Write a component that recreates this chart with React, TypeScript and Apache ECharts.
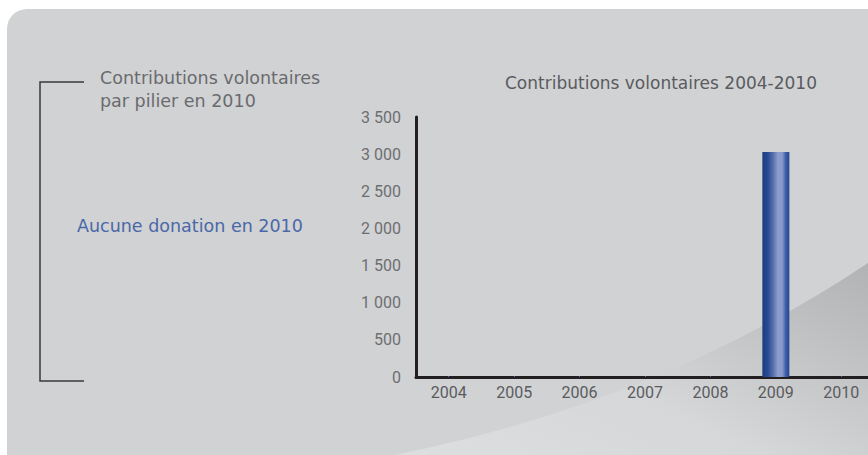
import React, { useEffect, useRef } from "react";
import * as echarts from "echarts";

const years = ["2004", "2005", "2006", "2007", "2008", "2009", "2010"];
const contributions = [0, 0, 0, 0, 0, 3030, 0];
const yTicks = { min: 0, max: 3500, interval: 500 };
const chartTitle = "Contributions volontaires 2004-2010";
const sideTitleLines = ["Contributions volontaires", "par pilier en 2010"];
const sideNote = "Aucune donation en 2010";

let registered = false;
function registerShapes() {
  if (registered) return;
  registered = true;
  echarts.graphic.registerShape(
    "swoosh",
    echarts.graphic.extendPath("M395,455 Q662,401 868,263 L900,240 L900,470 L395,470 Z", {})
  );
}

const fmt = (v: number) => {
  const s = String(Math.round(v));
  return s.replace(/\B(?=(\d{3})+(?!\d))/g, " ");
};

export default function App() {
  const ref = useRef<HTMLDivElement>(null);
  useEffect(() => {
    if (!ref.current) return;
    document.body.style.overflow = "hidden";
    registerShapes();
    const chart = echarts.init(ref.current, null, { renderer: "svg" });
    const barGradient = new echarts.graphic.LinearGradient(0, 0, 1, 0, [
      { offset: 0, color: "#1a3c7e" },
      { offset: 0.2, color: "#274b93" },
      { offset: 0.42, color: "#5d75b2" },
      { offset: 0.58, color: "#8e9ecd" },
      { offset: 0.74, color: "#8797c8" },
      { offset: 0.87, color: "#3b5ca8" },
      { offset: 1, color: "#22498f" },
    ]);
    chart.setOption({
      animation: false,
      backgroundColor: "#ffffff",
      graphic: [
        {
          type: "rect",
          z: -10,
          silent: true,
          shape: { x: 7, y: 9, width: 900, height: 480, r: [20, 0, 0, 0] },
          style: { fill: "#d1d2d4" },
        },
        {
          type: "swoosh",
          z: -9,
          silent: true,
          style: {
            fill: new echarts.graphic.LinearGradient(0, 1, 1, 0, [
              { offset: 0, color: "#dedfe1" },
              { offset: 0.4, color: "#d6d7d9" },
              { offset: 0.75, color: "#bdbec0" },
              { offset: 1, color: "#acadaf" },
            ]),
          },
        },
        {
          type: "polyline",
          silent: true,
          shape: { points: [[84, 82], [40, 82], [40, 381], [84, 381]] },
          style: { stroke: "#3a3a3c", lineWidth: 1.5, fill: null },
        },
        {
          type: "text",
          silent: true,
          x: 100,
          y: 78,
          style: {
            text: sideTitleLines[0],
            fill: "#6a6b6e",
            font: "17.5px 'DejaVu Sans'",
            verticalAlign: "middle",
          },
        },
        {
          type: "text",
          silent: true,
          x: 100,
          y: 101,
          style: {
            text: sideTitleLines[1],
            fill: "#6a6b6e",
            font: "17.5px 'DejaVu Sans'",
            verticalAlign: "middle",
          },
        },
        {
          type: "text",
          silent: true,
          x: 77,
          y: 226,
          style: {
            text: sideNote,
            fill: "#4a68a8",
            font: "17.5px 'DejaVu Sans'",
            verticalAlign: "middle",
          },
        },
        {
          type: "text",
          silent: true,
          x: 505,
          y: 83,
          style: {
            text: chartTitle,
            fill: "#5a5b5e",
            font: "17px 'DejaVu Sans'",
            verticalAlign: "middle",
          },
        },
      ],
      grid: { left: 416, top: 117, width: 458, height: 260, containLabel: false },
      xAxis: {
        type: "category",
        data: years,
        axisLine: { show: true, lineStyle: { color: "#231f20", width: 3 } },
        axisTick: {
          show: true,
          alignWithLabel: true,
          inside: true,
          length: 1,
          lineStyle: { color: "#4a6fd0", width: 1 },
        },
        axisLabel: {
          color: "#5a5b5e",
          fontFamily: "Roboto",
          fontSize: 16,
          margin: 7,
        },
        splitLine: { show: false },
      },
      yAxis: {
        type: "value",
        min: yTicks.min,
        max: yTicks.max,
        interval: yTicks.interval,
        axisLine: { show: true, lineStyle: { color: "#231f20", width: 3 } },
        axisTick: { show: false },
        splitLine: { show: false },
        axisLabel: {
          color: "#6d6e71",
          fontFamily: "Roboto",
          fontSize: 16,
          margin: 15,
          formatter: (v: number) => fmt(v),
        },
      },
      series: [
        {
          type: "bar",
          data: contributions,
          barWidth: 27,
          itemStyle: { color: barGradient },
          z: 1,
        },
      ],
    });
    return () => chart.dispose();
  }, []);
  return (
    <div
      ref={ref}
      style={{ position: "fixed", left: 0, top: 0, width: 900, height: 455 }}
    />
  );
}
